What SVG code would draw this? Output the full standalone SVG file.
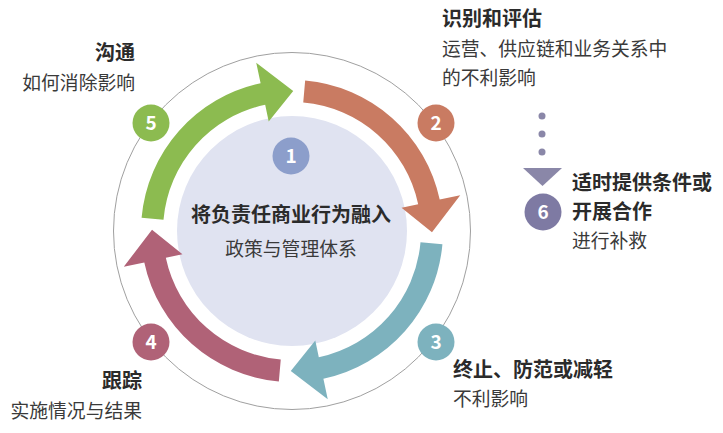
<svg xmlns="http://www.w3.org/2000/svg" width="723" height="433" viewBox="0 0 723 433">
<style>
text{font-family:"Noto Sans CJK SC","Noto Sans",sans-serif;}
.h{font-size:20px;font-weight:700;fill:#2b2b2b;}
.t{font-size:18.8px;fill:#3a3a3a;}
.n{font-size:19px;font-weight:700;fill:#fff;text-anchor:middle;}
</style>
<defs>
<path id="arr" d="M305.16 80.58 A151 151 0 0 1 439.70 199.61 L460.24 195.24 L431.99 232.22 L401.55 207.71 L418.18 204.18 A129 129 0 0 0 303.24 102.49 Z"/>
</defs>
<rect width="723" height="433" fill="#fff"/>
<g id="outer-ring"><circle cx="292" cy="231" r="178.5" fill="none" stroke="#a0a0a0" stroke-width="1"/></g>
<g id="node-1">
<circle cx="292" cy="231" r="115" fill="#e0e3f1"/>
<circle cx="291" cy="156" r="18.5" fill="#8c9ecb"/>
<text class="n" x="291" y="163">1</text>
<text class="h" x="291" y="222" text-anchor="middle">将负责任商业行为融入</text>
<text class="t" x="291" y="256" text-anchor="middle">政策与管理体系</text>
</g>
<g id="connectors">
<use href="#arr" fill="#c97b62"/>
<use href="#arr" fill="#7db2be" transform="rotate(90 292 231)"/>
<use href="#arr" fill="#b06277" transform="rotate(180 292 231)"/>
<use href="#arr" fill="#8cbb50" transform="rotate(270 292 231)"/>
<g fill="#8a87a8">
<circle cx="542" cy="116" r="3.5"/>
<circle cx="542" cy="134" r="3.5"/>
<circle cx="542" cy="152" r="3.5"/>
<polygon points="523,168 562,168 542.5,186"/>
</g>
</g>
<g id="node-2">
<circle cx="436" cy="123" r="18.5" fill="#c97b62"/>
<text class="n" x="436" y="130">2</text>
<text class="h" x="442" y="26">识别和评估</text>
<text class="t" x="442" y="56">运营、供应链和业务关系中</text>
<text class="t" x="442" y="85">的不利影响</text>
</g>
<g id="node-3">
<circle cx="436" cy="342" r="18.5" fill="#7db2be"/>
<text class="n" x="436" y="349">3</text>
<text class="h" x="453" y="377">终止、防范或减轻</text>
<text class="t" x="453" y="406">不利影响</text>
</g>
<g id="node-4">
<circle cx="151" cy="342" r="18.5" fill="#b06277"/>
<text class="n" x="151" y="349">4</text>
<text class="h" x="142" y="388" text-anchor="end">跟踪</text>
<text class="t" x="142" y="418" text-anchor="end">实施情况与结果</text>
</g>
<g id="node-5">
<circle cx="151" cy="123" r="18.5" fill="#8cbb50"/>
<text class="n" x="151" y="130">5</text>
<text class="h" x="135" y="60" text-anchor="end">沟通</text>
<text class="t" x="135" y="90" text-anchor="end">如何消除影响</text>
</g>
<g id="node-6">
<circle cx="543" cy="212" r="18.5" fill="#7e7aa3"/>
<text class="n" x="543" y="219">6</text>
<text class="h" x="572" y="190">适时提供条件或</text>
<text class="h" x="572" y="219">开展合作</text>
<text class="t" x="572" y="248">进行补救</text>
</g>
</svg>
